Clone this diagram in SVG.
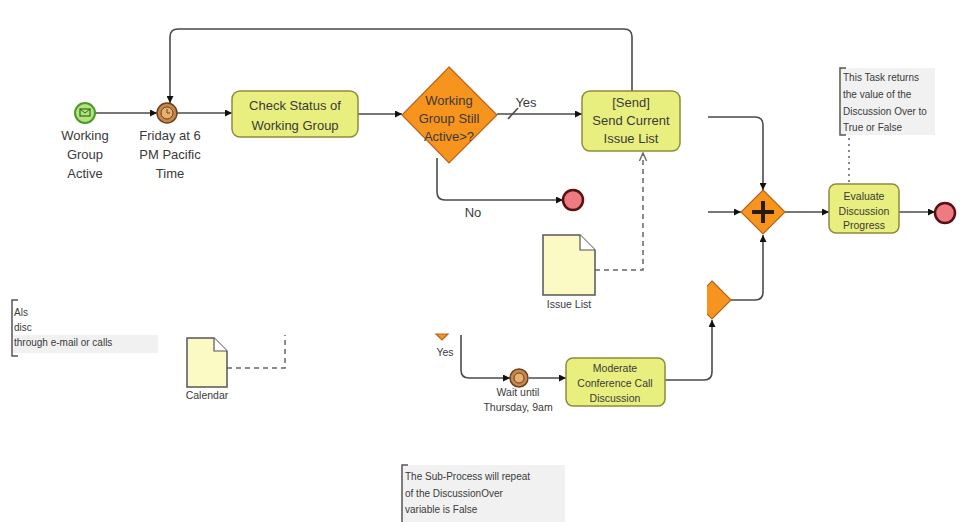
<svg xmlns="http://www.w3.org/2000/svg" width="974" height="522" viewBox="0 0 974 522">
<defs>
<style>
text{font-family:"Liberation Sans",Arial,sans-serif;fill:#3a3a3a;text-anchor:middle}
.t12{font-size:13px}
.t10{font-size:10.5px}
.t9{font-size:10.5px}
.task{fill:#e9ef7e;stroke:#8c8c3c;stroke-width:1.5}
.gw{fill:#f7941d;stroke:#b3641e;stroke-width:1.2}
.flow{fill:none;stroke:#4a4a4a;stroke-width:1.6}
.assoc{fill:none;stroke:#666;stroke-width:1.5;stroke-dasharray:5 4}
.dot{fill:none;stroke:#888;stroke-width:2;stroke-dasharray:2 4}
.endev{fill:#ee7a82;stroke:#5a1010;stroke-width:2.5}
.timer{fill:#c6874d;stroke:#6d4020;stroke-width:1.5}
.doc{fill:#fbf9c4;stroke:#555;stroke-width:1.5}
.ann{fill:#f1f1f1;stroke:none}
.brk{fill:none;stroke:#555;stroke-width:1.5}
.note{text-anchor:start;font-size:10px}
</style>
<marker id="ah" viewBox="0 0 10 10" refX="10" refY="5" markerWidth="7" markerHeight="7" orient="auto-start-reverse" markerUnits="userSpaceOnUse">
<path d="M0,0 L10,5 L0,10 z" fill="#111"/>
</marker>
<marker id="oa" viewBox="0 0 10 10" refX="9" refY="5" markerWidth="9" markerHeight="9" orient="auto" markerUnits="userSpaceOnUse">
<path d="M0,1 L9,5 L0,9" fill="none" stroke="#666" stroke-width="1.5"/>
</marker>
<clipPath id="gwclip"><rect x="707" y="270" width="60" height="60"/></clipPath>
</defs>
<rect width="974" height="522" fill="#ffffff"/>

<g id="connectors">
<path class="flow" d="M95,113 L157,113" marker-end="url(#ah)"/>
<path class="flow" d="M177,113 L232,113" marker-end="url(#ah)"/>
<path class="flow" d="M632,91 L632,37 Q632,29 624,29 L178,29 Q170,29 170,37 L170,103" marker-end="url(#ah)"/>
<path class="flow" d="M358,114 L402,114" marker-end="url(#ah)"/>
<path class="flow" d="M497,114 L582,114" marker-end="url(#ah)"/>
<path class="flow" d="M508,119 L518,108"/>
<path class="flow" d="M437,158 L437,192 Q437,200 445,200 L563,200" marker-end="url(#ah)"/>
<path class="assoc" d="M595,270 L643,270 L643,153" marker-end="url(#oa)"/>
<path class="flow" d="M708,117 L755,117 Q763,117 763,125 L763,190" marker-end="url(#ah)"/>
<path class="flow" d="M708,212 L741,212" marker-end="url(#ah)"/>
<path class="flow" d="M731,300 L755,300 Q763,300 763,292 L763,235" marker-end="url(#ah)"/>
<path class="flow" d="M785,212 L829,212" marker-end="url(#ah)"/>
<path class="flow" d="M899,212 L935,212" marker-end="url(#ah)"/>
<path class="dot" d="M849,138 L849,183"/>
<path class="assoc" d="M227,368 L285,368 L285,335"/>
<path class="flow" d="M461,335 L461,370 Q461,378 469,378 L510,378" marker-end="url(#ah)"/>
<path class="flow" d="M529,378 L566,378" marker-end="url(#ah)"/>
<path class="flow" d="M665,380 L704,380 Q712,380 712,372 L712,320" marker-end="url(#ah)"/>
</g>

<g id="start">
<circle cx="85" cy="113" r="10" fill="#b5e27c" stroke="#4b9b2c" stroke-width="2"/>
<rect x="80" y="109" width="10" height="7" fill="none" stroke="#2f6b1a" stroke-width="1.2"/>
<path d="M80,109 L85,113 L90,109" fill="none" stroke="#2f6b1a" stroke-width="1"/>
<text class="t12" x="85" y="140">Working</text>
<text class="t12" x="85" y="159">Group</text>
<text class="t12" x="85" y="178">Active</text>
</g>

<g id="timer1">
<circle class="timer" cx="167" cy="113" r="10"/>
<circle cx="167" cy="113" r="6" fill="#e8b070" stroke="#6d4020" stroke-width="1"/>
<path d="M167,109 L167,113 L170,113" fill="none" stroke="#6d4020" stroke-width="1"/>
<text class="t12" x="170" y="140">Friday at 6</text>
<text class="t12" x="170" y="159">PM Pacific</text>
<text class="t12" x="170" y="178">Time</text>
</g>

<g id="check">
<rect class="task" x="232" y="91" width="126" height="46" rx="8"/>
<text class="t12" x="295" y="110">Check Status of</text>
<text class="t12" x="295" y="130">Working Group</text>
</g>

<g id="gw1">
<polygon class="gw" points="449,67 497,115 449,163 402,115"/>
<text class="t12" x="449" y="105">Working</text>
<text class="t12" x="449" y="123">Group Still</text>
<text class="t12" x="449" y="141">Active&gt;?</text>
</g>
<text class="t12" x="526" y="107">Yes</text>
<text class="t12" x="473" y="217">No</text>

<g id="send">
<rect class="task" x="582" y="91" width="98" height="60" rx="8"/>
<text class="t12" x="631" y="107">[Send]</text>
<text class="t12" x="631" y="125">Send Current</text>
<text class="t12" x="631" y="143">Issue List</text>
</g>

<g id="end1"><circle class="endev" cx="573" cy="200" r="10"/></g>

<g id="issuelist">
<path class="doc" d="M543,235 L580,235 L595,250 L595,295 L543,295 z"/>
<path d="M580,235 L580,250 L595,250" fill="#fff" stroke="#555" stroke-width="1.2"/>
<text class="t10" x="569" y="308">Issue List</text>
</g>

<g id="parallel">
<polygon class="gw" points="763,190 785,212 763,234 741,212"/>
<path d="M752,212 L774,212 M763,201 L763,223" stroke="#2a1a0a" stroke-width="4"/>
</g>

<g id="gw2">
<polygon class="gw" points="712,281 731,300 712,319 693,300" clip-path="url(#gwclip)"/>
</g>

<g id="annot1">
<rect class="ann" x="841" y="68" width="94" height="67"/>
<path class="brk" d="M846,68 L840,68 L840,135 L846,135"/>
<text class="note" x="843" y="81">This Task returns</text>
<text class="note" x="843" y="98">the value of the</text>
<text class="note" x="843" y="115">Discussion Over to</text>
<text class="note" x="843" y="131">True or False</text>
</g>

<g id="evaluate">
<rect class="task" x="829" y="184" width="70" height="49" rx="7"/>
<text class="t9" x="864" y="200">Evaluate</text>
<text class="t9" x="864" y="215">Discussion</text>
<text class="t9" x="864" y="229">Progress</text>
</g>

<g id="end2"><circle class="endev" cx="945" cy="213" r="10"/></g>

<g id="annot2">
<rect class="ann" x="13" y="335" width="145" height="18"/>
<path class="brk" d="M18,300 L12,300 L12,356 L18,356"/>
<text class="note" x="14" y="316">Als</text>
<text class="note" x="14" y="331">disc</text>
<text class="note" x="14" y="346">through e-mail or calls</text>
</g>

<g id="calendar">
<path class="doc" d="M187,338 L214,338 L227,351 L227,387 L187,387 z"/>
<path d="M214,338 L214,351 L227,351" fill="#fff" stroke="#555" stroke-width="1.2"/>
<text class="t9" x="207" y="399">Calendar</text>
</g>

<g id="gw3">
<polygon class="gw" points="436,334 448,334 442,340" stroke="none"/>
</g>
<text class="t9" x="445" y="356">Yes</text>

<g id="timer2">
<circle class="timer" cx="519" cy="378" r="9"/>
<circle cx="519" cy="378" r="5" fill="#e8b070" stroke="#6d4020" stroke-width="1"/>
<text class="t9" x="518" y="396">Wait until</text>
<text class="t9" x="518" y="411">Thursday, 9am</text>
</g>

<g id="moderate">
<rect class="task" x="566" y="358" width="99" height="48" rx="7"/>
<text class="t9" x="615" y="372">Moderate</text>
<text class="t9" x="615" y="387">Conference Call</text>
<text class="t9" x="615" y="402">Discussion</text>
</g>

<g id="annot3">
<rect class="ann" x="402" y="465" width="163" height="57"/>
<path class="brk" d="M408,465 L402,465 L402,522"/>
<text class="note" x="405" y="480">The Sub-Process will repeat</text>
<text class="note" x="405" y="497">of the DiscussionOver</text>
<text class="note" x="405" y="513">variable is False</text>
</g>
</svg>
